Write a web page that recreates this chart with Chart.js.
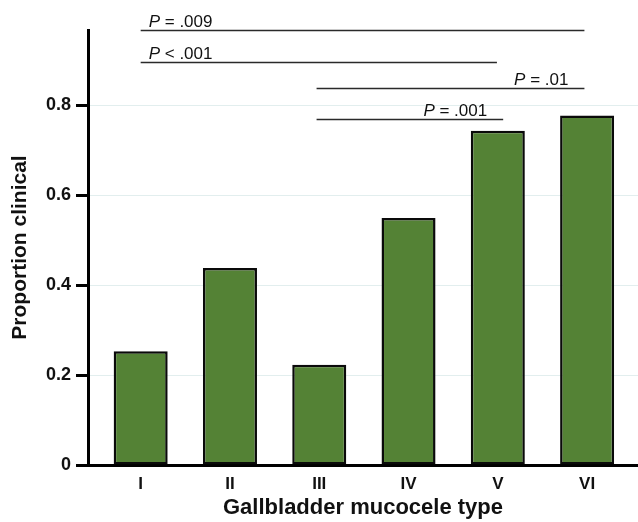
<!DOCTYPE html>
<html>
<head>
<meta charset="utf-8">
<title>Gallbladder mucocele type</title>
<script src="https://cdn.jsdelivr.net/npm/chart.js"></script>
<style>
  html, body { margin: 0; padding: 0; background: #fff; }
  #wrap { width: 638px; height: 522px; }
</style>
</head>
<body>
<div id="wrap"><canvas id="barChart"></canvas></div>
<script>
// data
const types = ['I', 'II', 'III', 'IV', 'V', 'VI'];
const proportion = [0.253, 0.438, 0.223, 0.549, 0.743, 0.777];
const yTicks = [0, 0.2, 0.4, 0.6, 0.8];

// significance brackets (category index from/to, height in y units)
const bracketFrom = [0, 0, 1.97, 1.97];
const bracketTo = [4.97, 3.99, 4.97, 4.06];
const bracketY = [0.966, 0.896, 0.838, 0.769];
const bracketSign = ['=', '<', '=', '='];
const bracketP = ['.009', '.001', '.01', '.001'];
const bracketSide = ['start', 'start', 'end', 'end'];

const FONT = '"Liberation Sans", Arial, Helvetica, sans-serif';

const bracketPlugin = {
  id: 'brackets',
  afterDatasetsDraw(chart) {
    const { ctx, scales: { x, y } } = chart;
    ctx.save();
    for (let i = 0; i < bracketY.length; i++) {
      const x0 = x.getPixelForValue(bracketFrom[i]);
      const x1 = x.getPixelForValue(bracketTo[i]);
      const yy = Math.round(y.getPixelForValue(bracketY[i])) + 0.5;
      ctx.strokeStyle = '#2a2a2a';
      ctx.lineWidth = 1.5;
      ctx.beginPath();
      ctx.moveTo(x0, yy);
      ctx.lineTo(x1, yy);
      ctx.stroke();

      // "P" italic, rest regular
      const italic = 'italic 17px ' + FONT;
      const normal = '17px ' + FONT;
      const rest = ' ' + bracketSign[i] + ' ' + bracketP[i];
      ctx.font = italic;
      const wP = ctx.measureText('P').width;
      ctx.font = normal;
      const wR = ctx.measureText(rest).width;
      let tx = bracketSide[i] === 'start' ? x0 + 8 : x1 - 16 - wP - wR;
      ctx.fillStyle = '#111';
      ctx.textBaseline = 'alphabetic';
      ctx.textAlign = 'left';
      ctx.font = italic;
      ctx.fillText('P', tx, yy - 4);
      ctx.font = normal;
      ctx.fillText(rest, tx + wP, yy - 4);
    }
    ctx.restore();
  }
};

const ctx = document.getElementById('barChart').getContext('2d');
new Chart(ctx, {
  type: 'bar',
  data: {
    datasets: [{
      label: 'Proportion clinical',
      data: types.map((t, i) => ({ x: i, y: proportion[i] })),
      backgroundColor: '#548235',
      borderColor: '#0a0a0a',
      borderWidth: 2.5,
      borderSkipped: false,
      categoryPercentage: 1,
      barPercentage: 0.605
    }]
  },
  options: {
    responsive: true,
    maintainAspectRatio: false,
    animation: false,
    layout: { padding: { top: 30, right: 0, left: 0, bottom: 0 } },
    plugins: {
      legend: { display: false },
      tooltip: { enabled: false }
    },
    scales: {
      x: {
        type: 'linear',
        offset: false,
        min: -0.59,
        max: 5.57,
        afterFit(scale) { scale.height = 57; },
        afterBuildTicks(scale) {
          scale.ticks = types.map((t, i) => ({ value: i }));
        },
        ticks: {
          callback: v => types[v],
          font: { family: FONT, size: 17, weight: 'bold' },
          color: '#111',
          padding: 9,
          maxRotation: 0,
          autoSkip: false
        },
        grid: { display: false, drawTicks: false, offset: false },
        border: { color: '#000', width: 3 },
        title: {
          display: true,
          text: 'Gallbladder mucocele type',
          font: { family: FONT, size: 22, weight: 'bold' },
          color: '#111',
          padding: { top: 0, bottom: 1 }
        }
      },
      y: {
        min: 0,
        max: 0.967,
        afterFit(scale) { scale.width = 88; },
        afterBuildTicks(scale) {
          scale.ticks = yTicks.map(v => ({ value: v }));
        },
        ticks: {
          callback: v => (v === 0 ? '0' : v.toFixed(1)),
          font: { family: FONT, size: 18, weight: 'bold' },
          color: '#111',
          padding: 5
        },
        grid: {
          color: '#e2eeee',
          lineWidth: 1,
          tickColor: '#000',
          tickWidth: 3,
          tickLength: 12
        },
        border: { color: '#000', width: 3 },
        title: {
          display: true,
          text: 'Proportion clinical',
          font: { family: FONT, size: 21, weight: 'bold' },
          color: '#111',
          padding: { top: 8, bottom: 0 }
        }
      }
    }
  },
  plugins: [bracketPlugin]
});
</script>
</body>
</html>
